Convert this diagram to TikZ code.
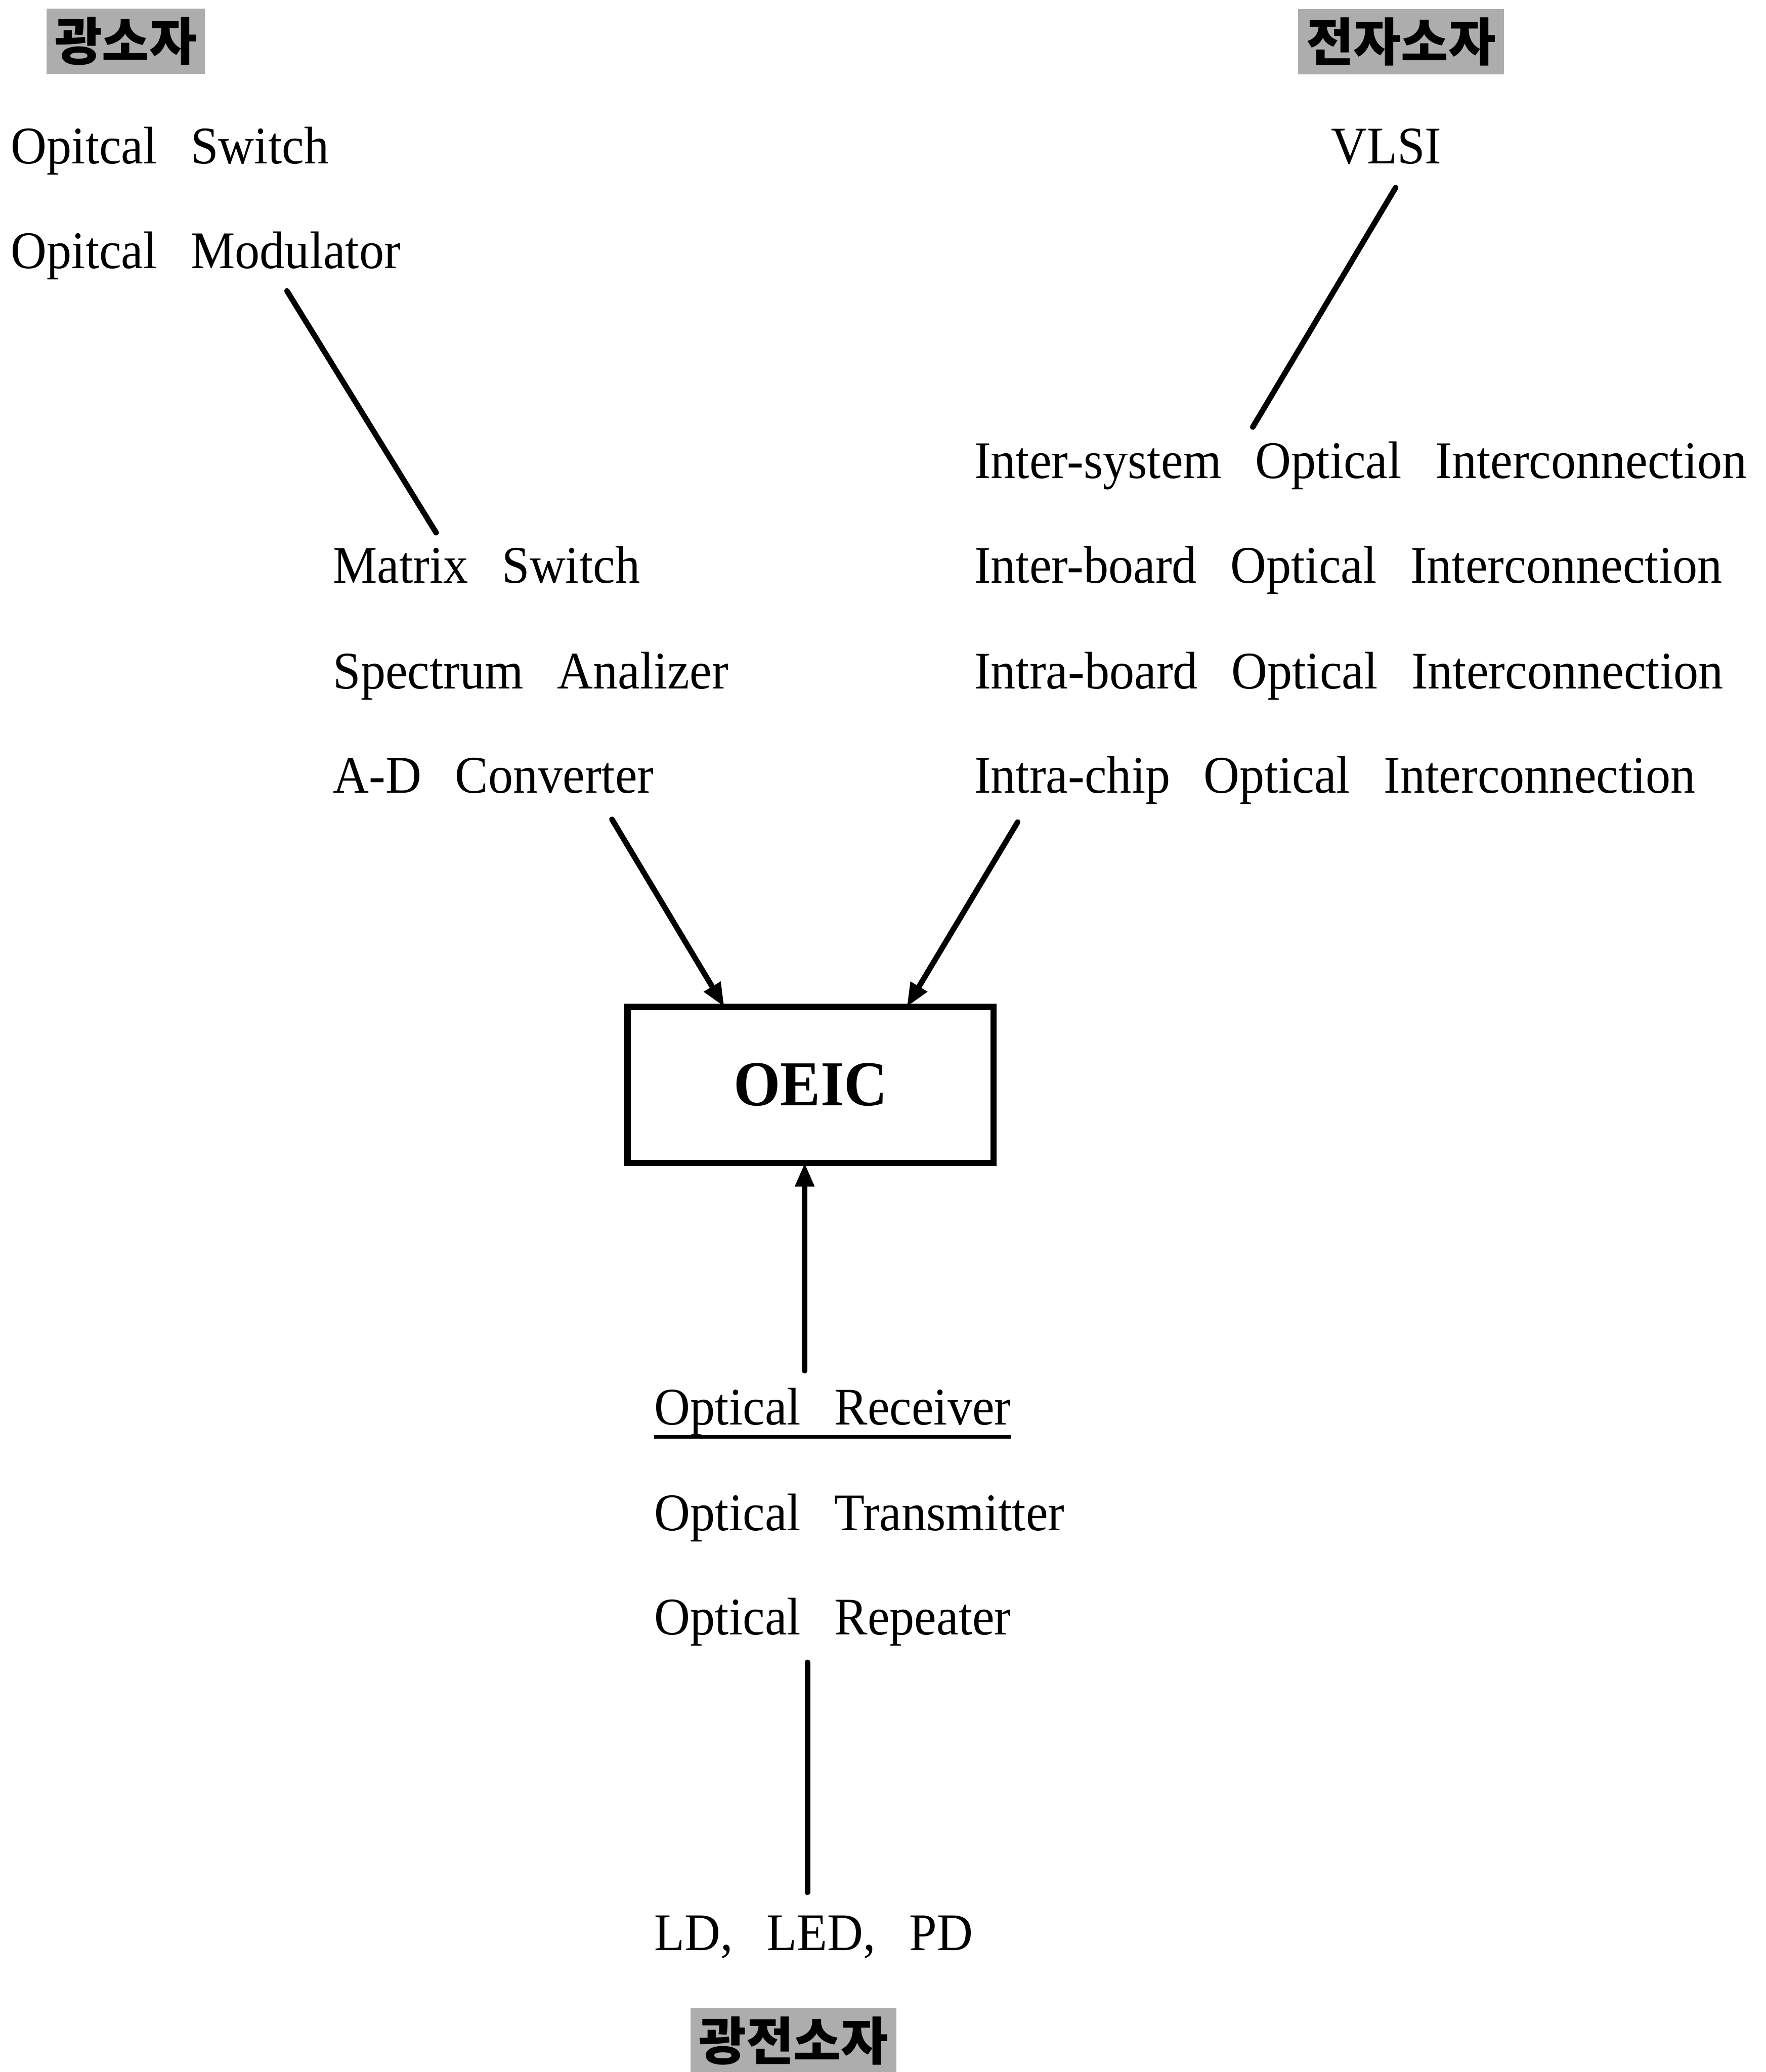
\documentclass[tikz,border=0pt]{standalone}
\usepackage{fontspec}
\setmainfont{Liberation Serif}[FakeStretch=0.94]
\newfontfamily\kor{Noto Sans CJK KR}
\usetikzlibrary{arrows.meta}
\newcommand\txtsz{\fontsize{38pt}{46pt}\selectfont\spaceskip=0.85cm\relax}
\tikzset{
  lbl/.style={anchor=base west, inner sep=0pt, font=\txtsz},
  kbox/.style={fill=black!32, inner sep=0pt, minimum height=1.65cm, font=\kor\bfseries\fontsize{37pt}{40pt}\selectfont},
  conn/.style={line width=4pt, line cap=round},
  arr/.style={conn, -{Triangle[length=0.6cm, width=0.46cm]}},
  box/.style={draw, line width=4.5pt, minimum width=9.25cm, minimum height=3.94cm, inner sep=0pt, font=\bfseries\fontsize{46pt}{50pt}\selectfont}
}
\begin{document}
\begin{tikzpicture}
\useasboundingbox (0,0) rectangle (44.61,-52.35);
% Korean category labels
\node[kbox, minimum width=3.99cm] (k1) at (3.175,-1.045) {광소자};
\node[kbox, minimum width=5.21cm] (k2) at (35.395,-1.06) {전자소자};
\node[kbox, minimum width=5.20cm] (k3) at (20.05,-51.56) {광전소자};
% left column
\node[lbl] (sw)   at (0.27,-4.14)  {Opitcal Switch};
\node[lbl] (mod)  at (0.27,-6.78)  {Opitcal Modulator};
\node[lbl] (mat)  at (8.41,-14.73) {Matrix Switch};
\node[lbl] (spec) at (8.41,-17.40) {Spectrum Analizer};
\node[lbl] (ad)   at (8.41,-20.03) {A-D Converter};
% right column
\node[lbl] (vlsi) at (33.62,-4.14) {VLSI};
\node[lbl] (is)   at (24.61,-12.09) {Inter-system Optical Interconnection};
\node[lbl] (ib)   at (24.61,-14.73) {Inter-board Optical Interconnection};
\node[lbl] (intb) at (24.61,-17.40) {Intra-board Optical Interconnection};
\node[lbl] (ic)   at (24.61,-20.03) {Intra-chip Optical Interconnection};
% center box
\node[box] (oeic) at (20.48,-27.41) {OEIC};
% bottom column
\node[lbl] (rec) at (16.53,-36.00) {Optical Receiver};
\node[lbl] (tra) at (16.53,-38.67) {Optical Transmitter};
\node[lbl] (rep) at (16.53,-41.30) {Optical Repeater};
\node[lbl] (ld)  at (16.53,-49.28) {LD, LED, PD};
\draw[line width=2.6pt] ([yshift=-0.3cm]rec.base west) -- ([yshift=-0.3cm]rec.base east);
% connector end points
\coordinate (c1) at (7.25,-7.35);
\coordinate (c2) at (11.02,-13.46);
\coordinate (c3) at (35.26,-4.74);
\coordinate (c4) at (31.65,-10.79);
\coordinate (a1) at (15.46,-20.70);
\coordinate (a1e) at (18.30,-25.44);
\coordinate (a2) at (25.71,-20.77);
\coordinate (a2e) at (22.91,-25.44);
\coordinate (u1) at (20.33,-34.63);
\coordinate (u1e) at (20.33,-29.38);
\coordinate (v1) at (20.40,-42.00);
\coordinate (v2) at (20.40,-47.81);
% connectors
\draw[conn] (c1) -- (c2);
\draw[conn] (c3) -- (c4);
\draw[arr] (a1) -- (a1e);
\draw[arr] (a2) -- (a2e);
\draw[arr] (u1) -- (u1e);
\draw[conn] (v1) -- (v2);
\end{tikzpicture}
\end{document}
